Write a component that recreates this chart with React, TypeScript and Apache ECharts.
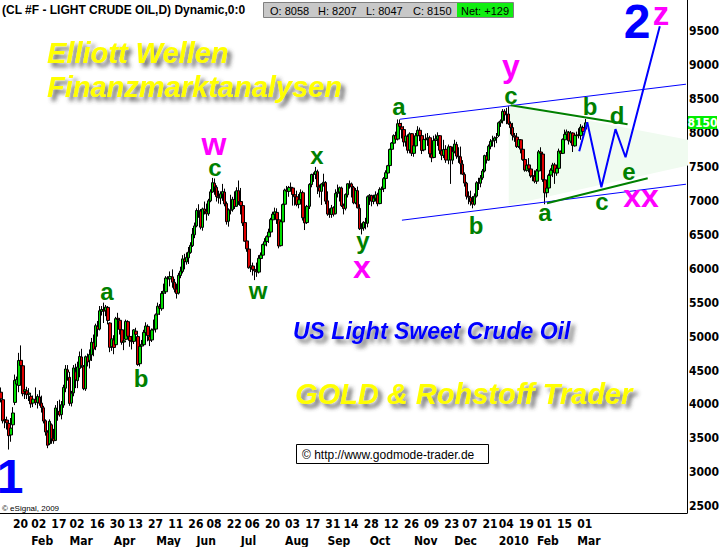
import React, { useEffect, useRef } from "react";
import * as echarts from "echarts";

// ---------- categories (trading days) ----------
const TRADING_DAYS: [string, number[]][] = [
  ["2009-01", [9, 12, 13, 14, 15, 16, 20, 21, 22, 23, 26, 27, 28, 29, 30]],
  ["2009-02", [2, 3, 4, 5, 6, 9, 10, 11, 12, 13, 17, 18, 19, 20, 23, 24, 25, 26, 27]],
  ["2009-03", [2, 3, 4, 5, 6, 9, 10, 11, 12, 13, 16, 17, 18, 19, 20, 23, 24, 25, 26, 27, 30, 31]],
  ["2009-04", [1, 2, 3, 6, 7, 8, 9, 13, 14, 15, 16, 17, 20, 21, 22, 23, 24, 27, 28, 29, 30]],
  ["2009-05", [1, 4, 5, 6, 7, 8, 11, 12, 13, 14, 15, 18, 19, 20, 21, 22, 26, 27, 28, 29]],
  ["2009-06", [1, 2, 3, 4, 5, 8, 9, 10, 11, 12, 15, 16, 17, 18, 19, 22, 23, 24, 25, 26, 29, 30]],
  ["2009-07", [1, 2, 6, 7, 8, 9, 10, 13, 14, 15, 16, 17, 20, 21, 22, 23, 24, 27, 28, 29, 30, 31]],
  ["2009-08", [3, 4, 5, 6, 7, 10, 11, 12, 13, 14, 17, 18, 19, 20, 21, 24, 25, 26, 27, 28, 31]],
  ["2009-09", [1, 2, 3, 4, 8, 9, 10, 11, 14, 15, 16, 17, 18, 21, 22, 23, 24, 25, 28, 29, 30]],
  ["2009-10", [1, 2, 5, 6, 7, 8, 9, 12, 13, 14, 15, 16, 19, 20, 21, 22, 23, 26, 27, 28, 29, 30]],
  ["2009-11", [2, 3, 4, 5, 6, 9, 10, 11, 12, 13, 16, 17, 18, 19, 20, 23, 24, 25, 27, 30]],
  ["2009-12", [1, 2, 3, 4, 7, 8, 9, 10, 11, 14, 15, 16, 17, 18, 21, 22, 23, 24, 28, 29, 30, 31]],
  ["2010-01", [4, 5, 6, 7, 8, 11, 12, 13, 14, 15, 19, 20, 21, 22, 25, 26, 27, 28, 29]],
  ["2010-02", [1, 2, 3, 4, 5, 8, 9, 10, 11, 12, 15, 16, 17, 18, 19, 22, 23, 24, 25, 26]],
  ["2010-03", [1, 2, 3, 4, 5]],
];
const FUTURE_SLOTS = 50;

// tick labels
const DAY_TICKS: [string, string][] = [
  ["2009-01-20", "20"], ["2009-02-02", "02"], ["2009-02-17", "17"], ["2009-03-02", "02"],
  ["2009-03-16", "16"], ["2009-03-30", "30"], ["2009-04-13", "13"], ["2009-04-27", "27"],
  ["2009-05-11", "11"], ["2009-05-26", "26"], ["2009-06-08", "08"], ["2009-06-22", "22"],
  ["2009-07-06", "06"], ["2009-07-20", "20"], ["2009-08-03", "03"], ["2009-08-17", "17"],
  ["2009-08-31", "31"], ["2009-09-14", "14"], ["2009-09-28", "28"], ["2009-10-12", "12"],
  ["2009-10-26", "26"], ["2009-11-09", "09"], ["2009-11-23", "23"], ["2009-12-07", "07"],
  ["2009-12-21", "21"], ["2010-01-04", "04"], ["2010-01-19", "19"], ["2010-02-01", "01"],
  ["2010-02-15", "15"], ["2010-03-01", "01"],
];
const MONTH_TICKS: [string, string][] = [
  ["2009-02-02", "Feb"], ["2009-03-02", "Mar"], ["2009-04-01", "Apr"], ["2009-05-01", "May"],
  ["2009-06-01", "Jun"], ["2009-07-01", "Jul"], ["2009-08-03", "Aug"], ["2009-09-01", "Sep"],
  ["2009-10-01", "Oct"], ["2009-11-02", "Nov"], ["2009-12-01", "Dec"], ["2010-01-04", "2010"],
  ["2010-02-01", "Feb"], ["2010-03-01", "Mar"],
];
const Y_TICKS = [2500, 3000, 3500, 4000, 4500, 5000, 5500, 6000, 6500, 7000, 7500, 8000, 8500, 9000, 9500];

// ---------- OHLC data  [open, close, low, high] ----------
const OHLC_2009_01 = [
  [4180, 4083, 4030, 4250], [4070, 3759, 3720, 4090], [3760, 3778, 3650, 3890], [3770, 3728, 3630, 3820],
  [3720, 3540, 3335, 3740], [3550, 3651, 3450, 3800], [3700, 3874, 3600, 3960], [4030, 4355, 3990, 4440],
  [4300, 4367, 4180, 4410], [4280, 4647, 4180, 4760], [4650, 4573, 4420, 4870], [4570, 4158, 4120, 4610],
  [4190, 4216, 4080, 4330], [4200, 4144, 4080, 4260], [4150, 4168, 4050, 4240],
];
const OHLC_2009_02 = [
  [4120, 4008, 3950, 4150], [4020, 4078, 3960, 4130], [4070, 4032, 3990, 4250], [4030, 4117, 3940, 4150],
  [4110, 4017, 3980, 4210], [4020, 3956, 3880, 4130], [3950, 3755, 3720, 3980], [3760, 3594, 3540, 3780],
  [3590, 3398, 3355, 3620], [3420, 3751, 3400, 3780], [3700, 3493, 3420, 3720], [3500, 3462, 3420, 3640],
  [3470, 3948, 3460, 3990], [3880, 3894, 3760, 4050], [3900, 3844, 3820, 4070], [3850, 3996, 3780, 4050],
  [3990, 4250, 3950, 4290], [4240, 4522, 4180, 4580], [4510, 4476, 4350, 4580],
];
const OHLC_2009_03 = [
  [4400, 4015, 3980, 4480], [4020, 4165, 3970, 4200], [4170, 4538, 4120, 4580], [4480, 4361, 4240, 4600],
  [4350, 4552, 4240, 4630], [4530, 4707, 4400, 4780], [4700, 4571, 4540, 4820], [4560, 4233, 4210, 4580],
  [4230, 4703, 4200, 4720], [4700, 4625, 4560, 4750], [4650, 4735, 4530, 4810], [4730, 4916, 4640, 4980],
  [4910, 4814, 4710, 5030], [4850, 5161, 4800, 5190], [5150, 5106, 5000, 5230], [5110, 5380, 5090, 5450],
  [5370, 5398, 5310, 5450], [5400, 5377, 5200, 5500], [5380, 5434, 5300, 5466], [5430, 5238, 5180, 5450],
  [5200, 4841, 4770, 5210], [4850, 4966, 4790, 5040],
];
const OHLC_2009_04 = [
  [4950, 4839, 4740, 5020], [4880, 5264, 4870, 5290], [5270, 5251, 5140, 5350], [5240, 5105, 5030, 5270],
  [5100, 4915, 4880, 5170], [4920, 4938, 4800, 5010], [4960, 5224, 4950, 5250], [5220, 5005, 4960, 5240],
  [5000, 4941, 4850, 5060], [4930, 4925, 4810, 5010], [4930, 5098, 4890, 5110], [5080, 5033, 4970, 5130],
  [5000, 4588, 4570, 5030], [4600, 4855, 4560, 4880], [4860, 4886, 4720, 4950], [4880, 5062, 4860, 5100],
  [5060, 5155, 4990, 5210], [5150, 5014, 4930, 5180], [5000, 4946, 4860, 5060], [4950, 5097, 4920, 5120],
  [5100, 5112, 5020, 5250],
];
const OHLC_2009_05 = [
  [5110, 5320, 5060, 5340], [5330, 5447, 5280, 5500], [5440, 5416, 5320, 5480], [5410, 5634, 5380, 5670],
  [5640, 5671, 5550, 5780], [5660, 5863, 5630, 5890], [5860, 5850, 5710, 5890], [5850, 5885, 5740, 5960],
  [5880, 5802, 5720, 5990], [5800, 5698, 5650, 5850], [5700, 5634, 5560, 5780], [5640, 5903, 5620, 5940],
  [5900, 5965, 5860, 6030], [5960, 6145, 5930, 6200], [6140, 6105, 5990, 6220], [6100, 6167, 6060, 6240],
  [6160, 6245, 6070, 6320], [6240, 6345, 6220, 6390], [6340, 6508, 6320, 6600], [6500, 6631, 6450, 6680],
];
const OHLC_2009_06 = [
  [6630, 6858, 6610, 6890], [6850, 6855, 6750, 6950], [6850, 6612, 6580, 6880], [6610, 6881, 6560, 6900],
  [6880, 6844, 6800, 6990], [6840, 6809, 6710, 6960], [6810, 7001, 6780, 7030], [7000, 7133, 6980, 7170],
  [7130, 7268, 7120, 7338], [7260, 7204, 7090, 7330], [7200, 7062, 6990, 7230], [7060, 7047, 6960, 7150],
  [7040, 7103, 6950, 7140], [7100, 7137, 7000, 7250], [7130, 6955, 6920, 7180], [6960, 6693, 6650, 6990],
  [6700, 6867, 6620, 6890], [6860, 6867, 6800, 7090], [6870, 7023, 6840, 7060], [7020, 6916, 6880, 7140],
  [6920, 7149, 6910, 7200], [7150, 6989, 6940, 7300],
];
const OHLC_2009_07 = [
  [6990, 6931, 6800, 7190], [6930, 6673, 6630, 6950], [6680, 6405, 6400, 6700], [6410, 6293, 6250, 6450],
  [6290, 6014, 6000, 6330], [6020, 6041, 5950, 6180], [6040, 5989, 5900, 6090], [5990, 5969, 5832, 6030],
  [5970, 5952, 5880, 6090], [5950, 6154, 5930, 6200], [6150, 6202, 6020, 6240], [6200, 6356, 6190, 6370],
  [6350, 6398, 6300, 6450], [6400, 6472, 6330, 6490], [6470, 6540, 6380, 6590], [6540, 6724, 6530, 6750],
  [6720, 6805, 6640, 6840], [6800, 6838, 6730, 6900], [6830, 6723, 6660, 6890], [6720, 6335, 6300, 6790],
  [6340, 6694, 6330, 6720], [6690, 6945, 6650, 6960],
];
const OHLC_2009_08 = [
  [6950, 7158, 6940, 7180], [7160, 7142, 7070, 7220], [7140, 7197, 7060, 7220], [7200, 7194, 7140, 7270],
  [7190, 7093, 6930, 7200], [7090, 7060, 6930, 7130], [7060, 6945, 6920, 7150], [6950, 7016, 6890, 7100],
  [7020, 7120, 6960, 7170], [7120, 6751, 6710, 7150], [6750, 6675, 6570, 6810], [6680, 6919, 6660, 6940],
  [6920, 7242, 6880, 7260], [7240, 7389, 7200, 7400], [7390, 7389, 7280, 7420], [7390, 7437, 7320, 7500],
  [7430, 7205, 7100, 7460], [7200, 7143, 7050, 7240], [7140, 7249, 6940, 7260], [7250, 7274, 7210, 7400],
  [7270, 6996, 6950, 7290],
];
const OHLC_2009_09 = [
  [7000, 6805, 6780, 7140], [6800, 6805, 6750, 6890], [6800, 6896, 6750, 6940], [6900, 6802, 6770, 6920],
  [6810, 7110, 6800, 7170], [7110, 7131, 7050, 7240], [7130, 7194, 6990, 7210], [7190, 6929, 6910, 7210],
  [6930, 6886, 6800, 6960], [6890, 7093, 6860, 7110], [7090, 7251, 7050, 7260], [7250, 7247, 7180, 7300],
  [7250, 7204, 7050, 7270], [7200, 6971, 6950, 7220], [6970, 7155, 6950, 7190], [7150, 6897, 6890, 7210],
  [6890, 6589, 6570, 6950], [6590, 6602, 6505, 6670], [6600, 6684, 6560, 6700], [6680, 6671, 6580, 6750],
  [6670, 7061, 6610, 7080],
];
const OHLC_2009_10 = [
  [7060, 7082, 6940, 7100], [7080, 6995, 6920, 7090], [6990, 7041, 6950, 7090], [7040, 7088, 6990, 7140],
  [7090, 6957, 6920, 7120], [6960, 7169, 6950, 7200], [7170, 7177, 7060, 7210], [7180, 7327, 7130, 7350],
  [7330, 7415, 7310, 7450], [7410, 7518, 7380, 7530], [7520, 7758, 7490, 7770], [7760, 7853, 7700, 7865],
  [7850, 7961, 7800, 7980], [7960, 7909, 7870, 8020], [7910, 8137, 7890, 8200], [8140, 8097, 7950, 8200],
  [8090, 8050, 7920, 8150], [8050, 7868, 7800, 8100], [7870, 7955, 7800, 8000], [7950, 7746, 7700, 7980],
  [7750, 7987, 7700, 8010], [7990, 7700, 7660, 8000],
];
const OHLC_2009_11 = [
  [7700, 7813, 7650, 7860], [7810, 7960, 7770, 8000], [7960, 8040, 7920, 8100], [8040, 7962, 7880, 8080],
  [7960, 7743, 7690, 8000], [7750, 7905, 7730, 7960], [7900, 7907, 7850, 7990], [7910, 7928, 7810, 8000],
  [7930, 7694, 7640, 7960], [7690, 7635, 7570, 7780], [7640, 7890, 7630, 7960], [7890, 7914, 7810, 7980],
  [7910, 7958, 7810, 8010], [7960, 7746, 7690, 7970], [7740, 7672, 7600, 7790], [7670, 7756, 7630, 7900],
  [7760, 7602, 7560, 7820], [7600, 7796, 7540, 7830], [7800, 7605, 7250, 7810], [7600, 7728, 7540, 7800],
];
const OHLC_2009_12 = [
  [7730, 7837, 7700, 7900], [7830, 7660, 7620, 7870], [7660, 7646, 7560, 7790], [7650, 7547, 7390, 7800],
  [7540, 7393, 7380, 7600], [7390, 7262, 7210, 7420], [7260, 7067, 7020, 7280], [7070, 7054, 6950, 7140],
  [7050, 6987, 6930, 7150], [6990, 6951, 6890, 7070], [6950, 7069, 6930, 7110], [7070, 7266, 7050, 7290],
  [7270, 7258, 7160, 7340], [7260, 7336, 7200, 7380], [7340, 7440, 7310, 7470], [7440, 7667, 7420, 7680],
  [7660, 7603, 7550, 7720], [7600, 7805, 7590, 7830], [7800, 7877, 7760, 7910], [7880, 7887, 7800, 7960],
  [7890, 7928, 7790, 7950], [7930, 7936, 7850, 8000],
];
const OHLC_2010_01 = [
  [7960, 8151, 7940, 8168], [8150, 8177, 8090, 8200], [8180, 8318, 8140, 8352], [8320, 8266, 8180, 8350],
  [8270, 8275, 8130, 8370], [8280, 8137, 8120, 8395], [8140, 8079, 7980, 8170], [8080, 7965, 7890, 8150],
  [7960, 7939, 7870, 8000], [7940, 7800, 7780, 8000], [7800, 7902, 7780, 7930], [7900, 7762, 7700, 7910],
  [7760, 7608, 7590, 7810], [7610, 7454, 7430, 7630], [7450, 7526, 7430, 7590], [7530, 7471, 7420, 7630],
  [7470, 7367, 7340, 7500], [7370, 7364, 7290, 7430], [7360, 7289, 7260, 7450],
];
const OHLC_2010_02 = [
  [7290, 7443, 7250, 7470], [7440, 7723, 7420, 7750], [7720, 7698, 7610, 7790], [7690, 7314, 7280, 7710],
  [7310, 7119, 6950, 7320], [7120, 7189, 7050, 7290], [7190, 7375, 7170, 7400], [7380, 7452, 7320, 7480],
  [7450, 7528, 7350, 7560], [7530, 7413, 7250, 7560], [7410, 7480, 7370, 7530], [7480, 7733, 7450, 7770],
  [7730, 7701, 7620, 7740], [7700, 7906, 7690, 7920], [7900, 7981, 7850, 8050], [7980, 8016, 7910, 8051],
  [8010, 7886, 7830, 8030], [7880, 8000, 7850, 8030], [8000, 7817, 7720, 8010], [7810, 7966, 7800, 8000],
];
const OHLC_2010_03 = [
  [7960, 7970, 7880, 8020], [7970, 7968, 7920, 8070], [7960, 8087, 7900, 8130], [8080, 8021, 7980, 8110],
  [8058, 8150, 8047, 8207],
];

// ---------- annotation lines [categoryIndex, price] ----------
const CHANNEL_UPPER = [[198, 8203], [340, 8719]];
const CHANNEL_LOWER = [[199, 6715], [340, 7245]];
const TRIANGLE_UPPER = [[253, 8409], [311, 8129]];
const TRIANGLE_LOWER = [[271, 6965], [321, 7334]];
const PROJECTION = [[287, 7732], [291, 8159], [298, 7201], [305, 8056], [310, 7643], [327, 9574]];
const SHADE = [[252, 8409], [341, 7900], [341, 7520], [252, 6936]];

const LAST = { o: 8058, h: 8207, l: 8047, c: 8150, net: 129 };

const NARROW = '"Liberation Sans Narrow", "DejaVu Sans Condensed", "Arial Narrow", sans-serif';
const SANS = '"Liberation Sans", Arial, sans-serif';

export default function App() {
  const ref = useRef<HTMLDivElement>(null);

  useEffect(() => {
    document.body.style.margin = "0";
    if (!ref.current) return;
    const chart = echarts.init(ref.current, undefined, { renderer: "svg" });

    const cats: string[] = [];
    TRADING_DAYS.forEach(([ym, days]) => days.forEach((d) => cats.push(`${ym}-${String(d).padStart(2, "0")}`)));
    for (let i = 1; i <= FUTURE_SLOTS; i++) cats.push(`f${i}`);
    const dayMap = new Map(DAY_TICKS);
    const monthMap = new Map(MONTH_TICKS);

    const ohlc = [
      ...OHLC_2009_01, ...OHLC_2009_02, ...OHLC_2009_03, ...OHLC_2009_04, ...OHLC_2009_05,
      ...OHLC_2009_06, ...OHLC_2009_07, ...OHLC_2009_08, ...OHLC_2009_09, ...OHLC_2009_10,
      ...OHLC_2009_11, ...OHLC_2009_12, ...OHLC_2010_01, ...OHLC_2010_02, ...OHLC_2010_03,
    ];

    const axisFont = { color: "#000", fontFamily: NARROW, fontWeight: "bold" as const, fontSize: 12 };

    const line = (data: number[][], color: string, width: number) => ({
      type: "line",
      data,
      symbol: "none",
      silent: true,
      z: 3,
      lineStyle: { color, width },
    });

    const shadow = { textShadowColor: "rgba(60,60,60,0.75)", textShadowBlur: 4, textShadowOffsetX: 4, textShadowOffsetY: 4 };
    const big = (text: string, x: number, y: number, size: number, fill: string) => ({
      type: "text",
      x,
      y,
      z: 100,
      style: {
        text,
        fill,
        fontFamily: SANS,
        fontWeight: "bold",
        fontSize: size,
        align: "center",
        verticalAlign: "middle",
      },
    });
    const water = (text: string, x: number, y: number, size: number, fill: string) => ({
      type: "text",
      x,
      y,
      z: 90,
      style: {
        text,
        fill,
        fontFamily: SANS,
        fontWeight: "bold",
        fontStyle: "italic",
        fontSize: size,
        align: "left",
        verticalAlign: "middle",
        ...shadow,
      },
    });
    const G = "#008000";
    const M = "#ff00ff";
    const B = "#0000ff";

    const option: any = {
      animation: false,
      backgroundColor: "#ffffff",
      grid: { left: 0, right: 38, top: 0, bottom: 34, containLabel: false },
      xAxis: [
        {
          type: "category",
          data: cats,
          boundaryGap: true,
          axisLine: { show: true, lineStyle: { color: "#000", width: 1 } },
          axisTick: { show: false },
          splitLine: { show: false },
          axisLabel: {
            interval: (_i: number, v: string) => dayMap.has(v),
            formatter: (v: string) => dayMap.get(v) || "",
            align: "left",
            margin: 5,
            ...axisFont,
          },
        },
        {
          type: "category",
          data: cats,
          position: "bottom",
          offset: 17,
          boundaryGap: true,
          axisLine: { show: false },
          axisTick: { show: false },
          splitLine: { show: false },
          axisLabel: {
            interval: (_i: number, v: string) => monthMap.has(v),
            formatter: (v: string) => monthMap.get(v) || "",
            align: "left",
            margin: 5,
            ...axisFont,
          },
        },
      ],
      yAxis: {
        type: "value",
        position: "right",
        min: 2400,
        max: 9960,
        axisLine: { show: true, lineStyle: { color: "#000", width: 1 } },
        axisTick: { show: false },
        splitLine: { show: false },
        axisLabel: { customValues: Y_TICKS, formatter: (v: number) => String(v), margin: 2, ...axisFont },
      },
      series: [
        {
          type: "custom",
          silent: true,
          z: 1,
          data: [[0, 0]],
          renderItem: (_p: any, api: any) => ({
            type: "polygon",
            shape: { points: SHADE.map((pt) => api.coord(pt)) },
            style: { fill: "#f0fbf0" },
          }),
        },
        {
          type: "candlestick",
          data: ohlc,
          barWidth: 3,
          z: 2,
          itemStyle: {
            color: "#00dd00",
            color0: "#dd0000",
            borderColor: "#000",
            borderColor0: "#000",
            borderColorDoji: "#000",
            borderWidth: 1,
          },
        },
        line(CHANNEL_UPPER, B, 1),
        line(CHANNEL_LOWER, B, 1),
        line(TRIANGLE_UPPER, G, 2),
        line(TRIANGLE_LOWER, G, 2),
        line(PROJECTION, B, 2),
      ],
      graphic: [
        {
          type: "text", x: 2, y: 10, z: 100,
          style: { text: "(CL #F - LIGHT CRUDE OIL,D) Dynamic,0:0", fill: "#000", fontFamily: SANS, fontWeight: "bold", fontSize: 12, verticalAlign: "middle" },
        },
        { type: "rect", z: 100, shape: { x: 263.5, y: 2.5, width: 250, height: 15 }, style: { fill: "#c8c8c8", stroke: "#808080", lineWidth: 1 } },
        { type: "rect", z: 101, shape: { x: 457, y: 3, width: 56, height: 14 }, style: { fill: "#11ee11" } },
        ...[
          [`O: ${LAST.o}`, 270], [`H: ${LAST.h}`, 318], [`L: ${LAST.l}`, 366], [`C: ${LAST.c}`, 413], [`Net: +${LAST.net}`, 461],
        ].map(([t, x]) => ({
          type: "text", x, y: 10.5, z: 102,
          style: { text: t, fill: "#000", fontFamily: SANS, fontSize: 11, verticalAlign: "middle" },
        })),
        water("Elliott Wellen", 47, 53, 29, "#ffff00"),
        water("Finanzmarktanalysen", 47, 87, 29, "#ffff00"),
        water("US Light Sweet Crude Oil", 293, 331, 23, "#0000ff"),
        water("GOLD & Rohstoff Trader", 295, 394, 29, "#ffff00"),
        { type: "rect", z: 100, shape: { x: 296.5, y: 444.5, width: 192, height: 19 }, style: { fill: "#fff", stroke: "#000", lineWidth: 1 } },
        {
          type: "text", x: 302, y: 454.5, z: 101,
          style: { text: "© http://www.godmode-trader.de", fill: "#000", fontFamily: SANS, fontSize: 12, verticalAlign: "middle" },
        },
        {
          type: "text", x: 2, y: 508, z: 100,
          style: { text: "© eSignal, 2009", fill: "#000", fontFamily: SANS, fontSize: 8, verticalAlign: "middle" },
        },
        { type: "rect", z: 100, shape: { x: 688, y: 116, width: 29, height: 13 }, style: { fill: "#00ee00" } },
        {
          type: "text", x: 702.5, y: 122.5, z: 101,
          style: { text: String(LAST.c), fill: "#fff", fontFamily: NARROW, fontWeight: "bold", fontSize: 12, align: "center", verticalAlign: "middle" },
        },
        // big wave numbers
        big("1", 10, 476, 48, B),
        big("2", 637, 21, 48, B),
        // magenta wave labels
        big("z", 661, 13, 33, M),
        big("y", 511, 66, 32, M),
        big("w", 214, 144, 32, M),
        big("x", 362, 267, 32, M),
        big("xx", 641, 196, 32, M),
        // green wave labels
        big("a", 107, 291, 24, G),
        big("b", 141, 378, 24, G),
        big("c", 215, 167, 24, G),
        big("w", 258, 290, 24, G),
        big("x", 317, 155, 24, G),
        big("y", 363, 240, 24, G),
        big("a", 399, 106, 24, G),
        big("b", 476, 225, 24, G),
        big("c", 511, 95, 24, G),
        big("b", 590, 106, 24, G),
        big("d", 617, 115, 24, G),
        big("e", 629, 171, 24, G),
        big("c", 602, 201, 24, G),
        big("a", 545, 212, 24, G),
      ],
    };

    chart.setOption(option);
    return () => chart.dispose();
  }, []);

  return <div ref={ref} style={{ width: 725, height: 547 }} />;
}
